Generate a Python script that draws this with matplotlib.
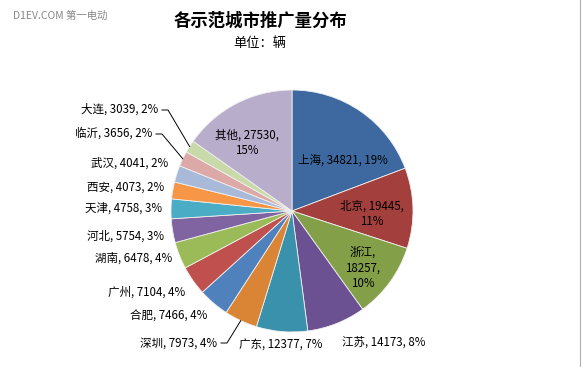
import numpy as np
import matplotlib
matplotlib.use("Agg")
import matplotlib.pyplot as plt

plt.rcParams["font.family"] = ["Noto Sans CJK SC", "DejaVu Sans"]

# data
cities = ["上海", "北京", "浙江", "江苏", "广东", "深圳", "合肥", "广州",
          "湖南", "河北", "天津", "西安", "武汉", "临沂", "大连", "其他"]
values = [34821, 19445, 18257, 14173, 12377, 7973, 7466, 7104,
          6478, 5754, 4758, 4073, 4041, 3656, 3039, 27530]
percents = [19, 11, 10, 8, 7, 4, 4, 4, 4, 3, 3, 2, 2, 2, 2, 15]
colors = ["#3D69A0", "#A33F3C", "#83A048", "#6B5191", "#3A91AB", "#D98535",
          "#4F81BD", "#C0504D", "#9BBB59", "#8064A2", "#4BACC6", "#F79646",
          "#A9B9DA", "#DCA9A7", "#C9DAAA", "#B9ADCC"]

W, H = 584, 367
fig = plt.figure(figsize=(W / 100, H / 100), dpi=100)
ax = fig.add_axes([0, 0, 1, 1])

cx, cy, r = 292, H - 211, 121
wedges, _ = ax.pie(values, colors=colors, startangle=90, counterclock=False,
                   center=(cx, cy), radius=r,
                   wedgeprops=dict(edgecolor="#f0f0f0", linewidth=0.6))
ax.set_xlim(0, W)
ax.set_ylim(0, H)
ax.set_aspect("equal")
ax.axis("off")

# label layout in pixel coords (x, y from top, alignment, line breaks)
layout = {
    "上海": (343, 160, "center", "{c}, {v}, {p}%"),
    "北京": (372, 214, "center", "{c}, {v},\n{p}%"),
    "浙江": (363, 268, "center", "{c},\n{v},\n{p}%"),
    "江苏": (384, 342, "center", "{c}, {v}, {p}%"),
    "广东": (281, 345, "center", "{c}, {v}, {p}%"),
    "深圳": (217, 343, "right", "{c}, {v}, {p}%"),
    "合肥": (207, 316, "right", "{c}, {v}, {p}%"),
    "广州": (185, 292, "right", "{c}, {v}, {p}%"),
    "湖南": (172, 258, "right", "{c}, {v}, {p}%"),
    "河北": (164, 236, "right", "{c}, {v}, {p}%"),
    "天津": (162, 208, "right", "{c}, {v}, {p}%"),
    "西安": (164, 187, "right", "{c}, {v}, {p}%"),
    "武汉": (168, 163, "right", "{c}, {v}, {p}%"),
    "临沂": (152, 133, "right", "{c}, {v}, {p}%"),
    "大连": (158, 109, "right", "{c}, {v}, {p}%"),
    "其他": (247, 143, "center", "{c}, {v},\n{p}%"),
}

for c, v, p in zip(cities, values, percents):
    x, y, ha, fmt = layout[c]
    ax.text(x, H - y, fmt.format(c=c, v=v, p=p), ha=ha, va="center",
            fontsize=8.3, linespacing=1.25, color="black")

# leader lines for small slices
leaders = {"大连": (162, 110), "临沂": (156, 134), "深圳": (221, 343)}
for w, c in zip(wedges, cities):
    if c in leaders:
        ang = np.deg2rad((w.theta1 + w.theta2) / 2)
        ex = cx + r * np.cos(ang)
        ey = cy + r * np.sin(ang)
        lx, ly = leaders[c]
        ax.plot([lx, lx + 6, ex], [H - ly, H - ly, ey], color="black", lw=0.7)

ax.text(260, H - 21, "各示范城市推广量分布", ha="center", va="center",
        fontsize=12.5, fontweight="bold")
ax.text(260, H - 43, "单位：辆", ha="center", va="center", fontsize=9.5)
ax.text(13, H - 16, "D1EV.COM 第一电动", ha="left", va="center",
        fontsize=7.5, color="#888888")
ax.plot([580, 580], [0, H], color="#b0b0b0", lw=0.8)

fig.savefig("out.png", dpi=100)
